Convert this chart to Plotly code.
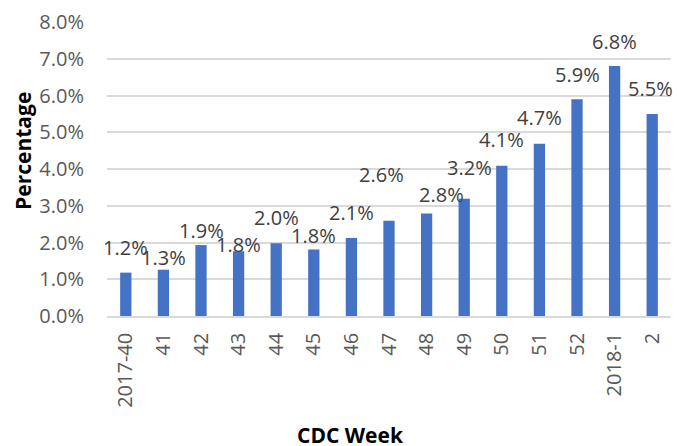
import plotly.graph_objects as go

weeks = ["2017-40", "41", "42", "43", "44", "45", "46", "47", "48", "49", "50", "51", "52", "2018-1", "2"]
percent = [1.18, 1.26, 1.93, 1.76, 1.98, 1.81, 2.12, 2.59, 2.79, 3.19, 4.09, 4.69, 5.90, 6.80, 5.50]
labels = ["1.2%", "1.3%", "1.9%", "1.8%", "2.0%", "1.8%", "2.1%", "2.6%", "2.8%", "3.2%", "4.1%", "4.7%", "5.9%", "6.8%", "5.5%"]
y_ticks = [0, 1, 2, 3, 4, 5, 6, 7, 8]

# label offsets (pixels) as placed in the original
label_dy = [25, 12, 15, 7, 26, 14, 26, 46, 19, 31, 26, 26, 25, 25, 25]
label_dx = [0, 0, 0, 0, 0, 0, 0, -8, 15, 5, 0, 0, 0, 0, -2]

FONT = "Open Sans"
fig = go.Figure()
fig.add_trace(go.Bar(x=weeks, y=percent, marker=dict(color="#4472C4", line=dict(width=0)),
                     hoverinfo="skip"))

for i, (v, t, dy, dx) in enumerate(zip(percent, labels, label_dy, label_dx)):
    fig.add_annotation(x=i, y=v, text=t, showarrow=False, yshift=dy, xshift=dx,
                       xanchor="center", yanchor="middle",
                       font=dict(family=FONT, size=20, color="#404040"))

fig.add_annotation(xref="paper", yref="paper", x=-0.148, y=0.56, text="<b>Percentage</b>",
                   textangle=-90, showarrow=False, xanchor="center", yanchor="middle",
                   font=dict(family=FONT, size=21, color="#000000"))
fig.add_annotation(xref="paper", yref="paper", x=0.431, y=-0.35, text="<b>CDC Week</b>",
                   showarrow=False, xanchor="center", yanchor="top",
                   font=dict(family=FONT, size=21, color="#000000"))

fig.update_layout(
    width=677, height=446,
    margin=dict(l=107, r=6, t=22, b=130),
    paper_bgcolor="white", plot_bgcolor="white",
    bargap=0.7, showlegend=False,
    font=dict(family=FONT, size=20, color="#595959"),
)
fig.update_xaxes(type="category", range=[-0.5, len(weeks) - 0.5],
                 tickmode="array", tickvals=weeks, ticktext=weeks,
                 tickangle=-90, showgrid=False,
                 showline=True, linecolor="#d9d9d9", linewidth=1.5,
                 ticks="", tickfont=dict(family=FONT, size=20, color="#595959"),
                 ticklabelstandoff=7)
fig.update_yaxes(range=[0, 8], tickvals=y_ticks, ticktext=[f"{v:.1f}%" for v in y_ticks],
                 showgrid=True, gridcolor="#d9d9d9", gridwidth=1.5, zeroline=False,
                 ticks="", tickfont=dict(family=FONT, size=20, color="#595959"),
                 ticklabelstandoff=22)

fig.write_html("out.html", config={"displayModeBar": False},
               post_script="document.body.style.margin='0';document.body.style.overflow='hidden';")
